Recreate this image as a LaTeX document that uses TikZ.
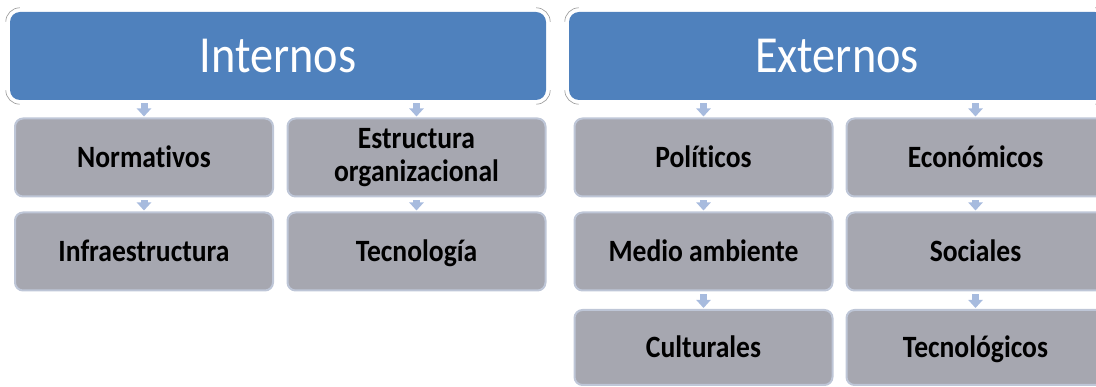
\documentclass[tikz,border=0pt]{standalone}
\usepackage{fontspec}
\setmainfont{Carlito}
\newfontfamily\tallfont{Carlito}[FakeStretch=0.89, Ligatures=NoCommon]
\usepackage{xcolor}
\definecolor{Blue}{RGB}{79,129,189}
\definecolor{Gray}{RGB}{166,167,176}
\definecolor{Rim}{RGB}{190,198,215}
\definecolor{Pale}{RGB}{167,187,222}
\definecolor{Bracket}{RGB}{150,150,150}
\definecolor{Black}{RGB}{0,0,0}
\definecolor{White}{RGB}{255,255,255}
\usetikzlibrary{arrows.meta}
\tikzset{
  header/.style={fill=Blue, draw=none, rounded corners=10pt, minimum width=536pt, minimum height=88pt, text=White, font=\tallfont\fontsize{52}{54}\selectfont},
  factor/.style={fill=Gray, draw=Rim, line width=2pt, rounded corners=8pt, minimum width=258pt, minimum height=78pt, text=Black, align=center, text height=26pt, text depth=5pt, font=\tallfont\bfseries\fontsize{31}{33}\selectfont},
  flow/.style={draw=Pale, line width=7pt, -{Triangle[width=14pt,length=8pt]}, shorten <=3pt, shorten >=1pt},
  bracket/.style={draw=Bracket, line width=0.6pt}
}
\newcommand{\brackets}[1]{%
  \draw[bracket] ([shift={(-4pt,-10pt)}]#1.north west) arc[start angle=180, end angle=90, radius=14pt];
  \draw[bracket] ([shift={(-10pt,4pt)}]#1.north east) arc[start angle=90, end angle=0, radius=14pt];
  \draw[bracket] ([shift={(-4pt,10pt)}]#1.south west) arc[start angle=180, end angle=270, radius=14pt];
  \draw[bracket] ([shift={(-10pt,-4pt)}]#1.south east) arc[start angle=270, end angle=360, radius=14pt];
}

\begin{document}
\begin{tikzpicture}[x=1pt, y=-1pt]

		\useasboundingbox (0,0) rectangle (1096,387);
		\clip (0,0) rectangle (1096,387);

		% Headers
		\node[header] (int) at (278,56) {Internos};
		\node[header] (ext) at (837,56) {Externos};
		\brackets{int}
		\brackets{ext}

		% Internos
		\node[factor] (norm) at (144,157.5) {Normativos};
		\node[factor, text height=, text depth=] (estr) at (416.5,157.5) {Estructura\\organizacional};
		\node[factor] (infra) at (144,251.5) {Infraestructura};
		\node[factor] (tecn) at (416.5,251.5) {Tecnología};

		% Externos
		\node[factor] (poli) at (703.5,157.5) {Políticos};
		\node[factor] (econ) at (975.5,157.5) {Económicos};
		\node[factor] (medio) at (703.5,251.5) {Medio ambiente};
		\node[factor] (soc) at (975.5,251.5) {Sociales};
		\node[factor, minimum height=75pt] (cult) at (703.5,347.5) {Culturales};
		\node[factor, minimum height=75pt] (tecl) at (975.5,347.5) {Tecnológicos};

		% Flow
		\draw[flow] (int.south -| norm) -- (norm.north);
		\draw[flow] (int.south -| estr) -- (estr.north);
		\draw[flow] (norm.south) -- (infra.north);
		\draw[flow] (estr.south) -- (tecn.north);

		\draw[flow] (ext.south -| poli) -- (poli.north);
		\draw[flow] (ext.south -| econ) -- (econ.north);
		\draw[flow] (poli.south) -- (medio.north);
		\draw[flow] (econ.south) -- (soc.north);
		\draw[flow] (medio.south) -- (cult.north);
		\draw[flow] (soc.south) -- (tecl.north);

\end{tikzpicture}
\end{document}
